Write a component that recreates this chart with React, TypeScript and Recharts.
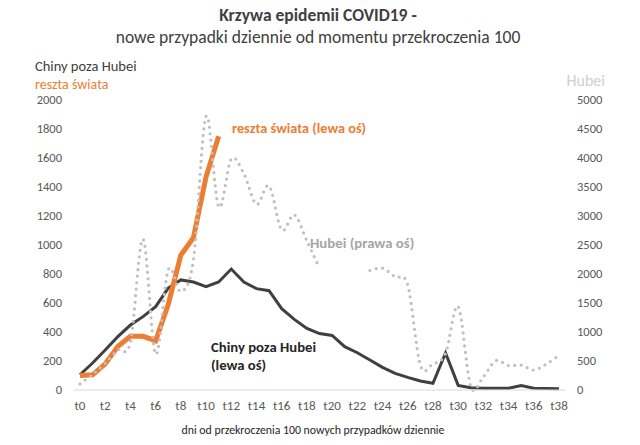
import React from 'react';
import { LineChart, Line, XAxis, YAxis } from 'recharts';

const categories = [
  't0', 't1', 't2', 't3', 't4', 't5', 't6', 't7', 't8', 't9',
  't10', 't11', 't12', 't13', 't14', 't15', 't16', 't17', 't18', 't19',
  't20', 't21', 't22', 't23', 't24', 't25', 't26', 't27', 't28', 't29',
  't30', 't31', 't32', 't33', 't34', 't35', 't36', 't37', 't38',
];

const chinyPozaHubei = [
  105, 186, 276, 368, 448, 506, 575, 703, 759, 745,
  712, 745, 834, 745, 699, 685, 561, 487, 425, 389,
  376, 299, 257, 207, 156, 115, 87, 62, 46, 255,
  32, 16, 12, 12, 12, 30, 12, 10, 8,
];

const resztaSwiata: (number | null)[] = [
  100, 105, 180, 300, 370, 370, 340, 590, 930, 1050,
  1470, 1750, null, null, null, null, null, null, null, null,
  null, null, null, null, null, null, null, null, null, null,
  null, null, null, null, null, null, null, null, null,
];

const hubei: (number | null)[] = [
  105, 270, 460, 690, 830, 2600, 620, 2070, 1700, 2250,
  4720, 3160, 3980, 3730, 3200, 3520, 2760, 3020, 2570, 2100,
  null, null, null, 2060, 2100, 1950, 1810, 430, 450, 630,
  1440, 60, 230, 506, 420, 430, 345, 448, 600,
];

const leftTicks = [0, 200, 400, 600, 800, 1000, 1200, 1400, 1600, 1800, 2000];
const rightTicks = [0, 500, 1000, 1500, 2000, 2500, 3000, 3500, 4000, 4500, 5000];

const data = categories.map((c, i) => ({
  t: c,
  chiny: chinyPozaHubei[i],
  reszta: resztaSwiata[i],
  hubei: hubei[i],
}));

const FONT = 'Carlito, Lato, sans-serif';

// Excel-like smoothed line (Catmull-Rom as cubic Bezier)
const excelSmooth: any = (context: any) => {
  let pts: number[][] = [];
  return {
    areaStart() {},
    areaEnd() {},
    lineStart() {
      pts = [];
    },
    point(x: number, y: number) {
      pts.push([+x, +y]);
    },
    lineEnd() {
      const n = pts.length;
      if (n === 0) return;
      context.moveTo(pts[0][0], pts[0][1]);
      if (n === 1) {
        context.lineTo(pts[0][0], pts[0][1]);
        return;
      }
      for (let i = 0; i < n - 1; i++) {
        const p0 = pts[i - 1] || pts[i];
        const p1 = pts[i];
        const p2 = pts[i + 1];
        const p3 = pts[i + 2] || p2;
        const c1x = p1[0] + (p2[0] - p0[0]) / 6;
        const c1y = p1[1] + (p2[1] - p0[1]) / 6;
        const c2x = p2[0] - (p3[0] - p1[0]) / 6;
        const c2y = p2[1] - (p3[1] - p1[1]) / 6;
        context.bezierCurveTo(c1x, c1y, c2x, c2y, p2[0], p2[1]);
      }
    },
  };
};

const tickStyle = { fontFamily: FONT, fontSize: 12.5, fill: '#595959' };

export default function App() {
  return (
    <div style={{ position: 'absolute', left: 0, top: 0, width: 640, height: 445, background: '#fff' }}>
      <LineChart
        width={640}
        height={445}
        data={data}
        margin={{ top: 100, right: 0, bottom: 0, left: 0 }}
      >
        <XAxis
          dataKey="t"
          height={55}
          interval={1}
          tickLine={false}
          tickSize={0}
          tickMargin={11}
          padding={{ left: 6, right: 6 }}
          axisLine={{ stroke: '#D9D9D9', strokeWidth: 1 }}
          tick={{ ...tickStyle, fontSize: 13 }}
        />
        <YAxis
          yAxisId="left"
          orientation="left"
          width={74}
          domain={[0, 2000]}
          ticks={leftTicks}
          interval={0}
          axisLine={false}
          tickLine={false}
          tickSize={0}
          tickMargin={12}
          tick={tickStyle}
        />
        <YAxis
          yAxisId="right"
          orientation="right"
          width={75}
          domain={[0, 5000]}
          ticks={rightTicks}
          interval={0}
          axisLine={false}
          tickLine={false}
          tickSize={0}
          tickMargin={12}
          tick={tickStyle}
        />
        <Line
          yAxisId="left"
          dataKey="chiny"
          stroke="#404040"
          strokeWidth={3}
          dot={false}
          activeDot={false}
          type="linear"
          isAnimationActive={false}
        />
        <Line
          yAxisId="left"
          dataKey="reszta"
          stroke="#ED7D31"
          strokeWidth={5}
          dot={false}
          activeDot={false}
          type="linear"
          isAnimationActive={false}
        />
        <Line
          yAxisId="right"
          dataKey="hubei"
          stroke="#BFBFBF"
          strokeWidth={3.2}
          strokeDasharray="0 6.5"
          strokeLinecap="round"
          dot={false}
          activeDot={false}
          type={excelSmooth}
          isAnimationActive={false}
        />
      </LineChart>
      <svg
        width={640}
        height={445}
        style={{ position: 'absolute', left: 0, top: 0, pointerEvents: 'none' }}
      >
        <text x={318} y={21} textAnchor="middle" fontFamily={FONT} fontSize={17.5} fontWeight="bold" fill="#404040">
          Krzywa epidemii COVID19 -
        </text>
        <text x={318} y={43} textAnchor="middle" fontFamily={FONT} fontSize={17.5} fill="#404040">
          nowe przypadki dziennie od momentu przekroczenia 100
        </text>
        <text x={35} y={71} fontFamily={FONT} fontSize={14.5} fill="#404040">
          Chiny poza Hubei
        </text>
        <text x={35} y={88.5} fontFamily={FONT} fontSize={14} fill="#ED7D31">
          reszta świata
        </text>
        <text x={605} y={86} textAnchor="end" fontFamily={FONT} fontSize={16} fill="#D0D0D0">
          Hubei
        </text>
        <text x={232} y={133} fontFamily={FONT} fontSize={14.3} fontWeight="bold" fill="#ED7D31">
          reszta świata (lewa oś)
        </text>
        <text x={310} y={248} fontFamily={FONT} fontSize={14.8} fontWeight="bold" fill="#A6A6A6">
          Hubei (prawa oś)
        </text>
        <text x={211} y={352} fontFamily={FONT} fontSize={14.7} fontWeight="bold" fill="#262626">
          Chiny poza Hubei
        </text>
        <text x={211} y={370} fontFamily={FONT} fontSize={14.7} fontWeight="bold" fill="#262626">
          (lewa oś)
        </text>
        <text x={313} y={434} textAnchor="middle" fontFamily={FONT} fontSize={11.8} fill="#262626">
          dni od przekroczenia 100 nowych przypadków dziennie
        </text>
      </svg>
    </div>
  );
}
